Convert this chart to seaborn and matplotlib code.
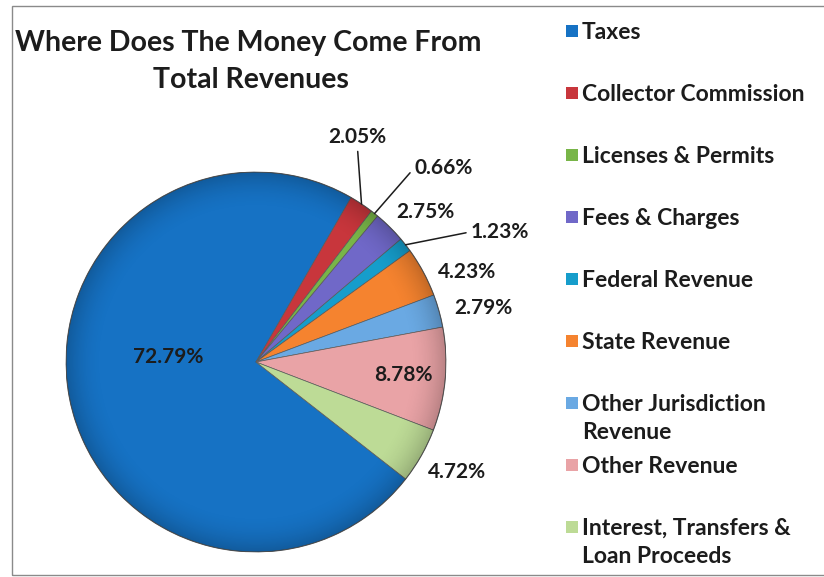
import numpy as np
import matplotlib
matplotlib.use("Agg")
import matplotlib.pyplot as plt
import matplotlib.patches as mpatches
import seaborn as sns

# Revenue sources and their share of total revenues (%)
categories = [
    "Taxes",
    "Collector Commission",
    "Licenses & Permits",
    "Fees & Charges",
    "Federal Revenue",
    "State Revenue",
    "Other Jurisdiction\nRevenue",
    "Other Revenue",
    "Interest, Transfers &\nLoan Proceeds",
]
shares = [72.79, 2.05, 0.66, 2.75, 1.23, 4.23, 2.79, 8.78, 4.72]
pct_labels = ["72.79%", "2.05%", "0.66%", "2.75%", "1.23%", "4.23%", "2.79%", "8.78%", "4.72%"]

colors = ["#1672C4", "#C8363C", "#78B548", "#7068C8", "#169DCB",
          "#F5832F", "#6AA9E3", "#E9A3A6", "#BDDB96"]

sns.set_theme(style="white")
plt.rcParams["font.family"] = ["Lato", "DejaVu Sans"]
palette = sns.color_palette(colors)
ink = "#1c1c1c"

W, H = 824, 577
fig = plt.figure(figsize=(W / 100, H / 100), dpi=100)
fig.patch.set_facecolor("white")

# chart frame (right edge runs off the canvas)
fig.add_artist(mpatches.Rectangle((12 / W, 2 / H), 840 / W, (571 - 2) / H,
                                  transform=fig.transFigure, fill=False,
                                  edgecolor="#8a8a8a", lw=1.0))

# pie axes: centre (256, 362) px, radius 190 px
cx, cy, R = 256, 362, 190
ax = fig.add_axes([(cx - R) / W, (H - cy - R) / H, 2 * R / W, 2 * R / H])
wedges, _ = ax.pie(shares, colors=palette, startangle=322, counterclock=False,
                   wedgeprops=dict(edgecolor="#5a5a5a", linewidth=0.5))
ax.set_xlim(-1, 1)
ax.set_ylim(-1, 1)
ax.set_aspect("equal")
ax.axis("off")

# soft bevel: darken slightly towards the rim
n = 400
gx, gy = np.meshgrid(np.linspace(-1, 1, n), np.linspace(-1, 1, n))
rr = np.hypot(gx, gy)
shade = np.zeros((n, n, 4))
shade[..., 3] = np.clip((rr - 0.80) / 0.20, 0, 1) ** 2 * 0.20
img = ax.imshow(shade, extent=(-1, 1, -1, 1), origin="lower", zorder=3,
                interpolation="bilinear")
img.set_clip_path(mpatches.Circle((0, 0), 1.0, transform=ax.transData))
ax.add_patch(mpatches.Circle((0, 0), 1.0, fill=False, edgecolor="#3c3c3c",
                             lw=0.8, alpha=0.6, zorder=4))
ax.set_xlim(-1, 1)
ax.set_ylim(-1, 1)

# label placement: radial distance and angular nudge from each wedge's mid-angle
label_r = [0.464, 1.30, 1.42, 1.19, 1.455, 1.21, 1.228, 0.777, 1.206]
label_nudge = [-14.2, 9.5, -5.4, -3.6, -10.0, -5.1, -2.2, 0.2, 0.8]
leaders = {1: (0.5, 0.0), 2: (0.0, 0.5), 4: (0.0, 0.5)}

for i, w in enumerate(wedges):
    mid = np.deg2rad((w.theta1 + w.theta2) / 2)
    ang = mid + np.deg2rad(label_nudge[i])
    tx, ty = label_r[i] * np.cos(ang), label_r[i] * np.sin(ang)
    kw = dict(ha="center", va="center", fontsize=15, fontweight="bold",
              color=ink, annotation_clip=False, zorder=6)
    if i in leaders:
        ex, ey = np.cos(mid), np.sin(mid)
        ax.annotate(pct_labels[i], xy=(ex, ey), xytext=(tx, ty),
                    arrowprops=dict(arrowstyle="-", color=ink, lw=1.1,
                                    relpos=leaders[i], shrinkA=1, shrinkB=0),
                    **kw)
    else:
        ax.annotate(pct_labels[i], xy=(tx, ty), **kw)

# title
fig.text(248 / W, 1 - 43 / H, "Where Does The Money Come From", ha="center", va="center",
         fontsize=20.5, fontweight="bold", color=ink)
fig.text(251 / W, 1 - 80 / H, "Total Revenues", ha="center", va="center",
         fontsize=20.5, fontweight="bold", color=ink)

# legend
leg_fs = 16.5
leg_top, leg_step = 31, 62
cap_half = 0.36 * leg_fs * 1.389
for i, (lab, col) in enumerate(zip(categories, palette)):
    y = leg_top + i * leg_step
    fig.add_artist(mpatches.Rectangle((566 / W, 1 - (y + 6) / H), 12 / W, 12 / H,
                                      transform=fig.transFigure, facecolor=col,
                                      edgecolor="none"))
    fig.text(582 / W, 1 - (y - cap_half - 1) / H, lab, ha="left", va="top",
             fontsize=leg_fs, fontweight="bold", color=ink, linespacing=1.45)

fig.savefig("out.png", dpi=100, facecolor="white")
